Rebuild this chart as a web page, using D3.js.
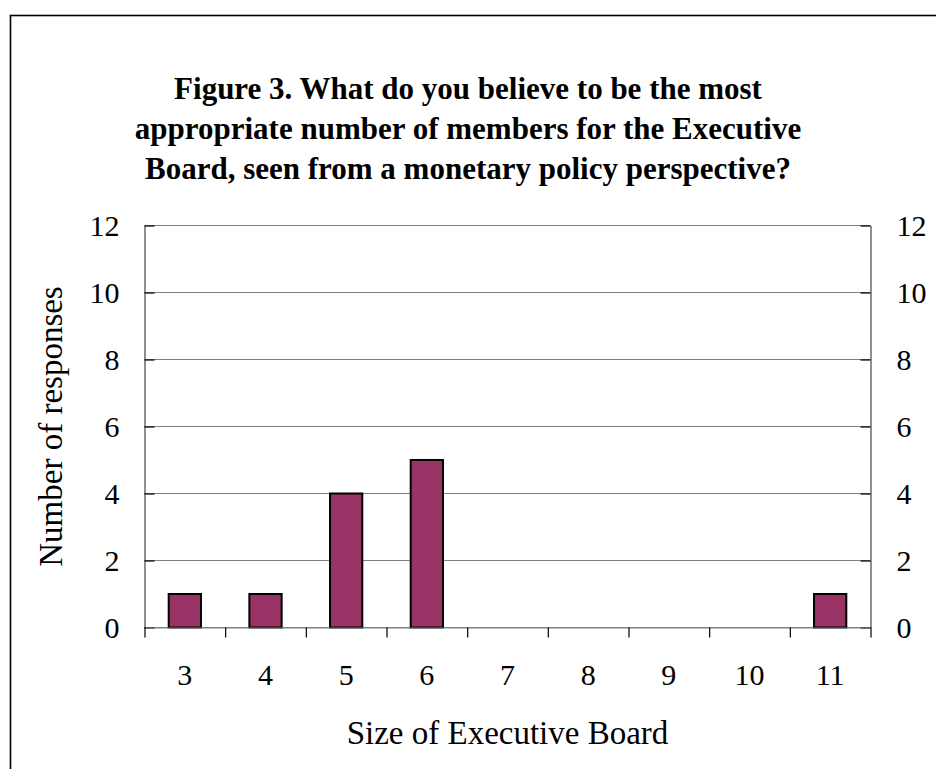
<!DOCTYPE html>
<html>
<head>
<meta charset="utf-8">
<script src="https://cdn.jsdelivr.net/npm/d3@7"></script>
<style>
  html, body { margin: 0; padding: 0; background: #fff; }
  svg { display: block; font-family: "Liberation Serif", "Times New Roman", serif; }
</style>
</head>
<body>
<svg id="chart" width="936" height="769"></svg>
<script>
// Survey results: preferred size of the Executive Board
const boardSizes = ["3", "4", "5", "6", "7", "8", "9", "10", "11"];
const responses = [1, 1, 4, 5, 0, 0, 0, 0, 1];
const yTicks = [0, 2, 4, 6, 8, 10, 12];
const titleLines = [
  "Figure 3. What do you believe to be the most",
  "appropriate number of members for the Executive",
  "Board, seen from a monetary policy perspective?"
];

const svg = d3.select("#chart");
const W = 936, H = 769;
const plot = { left: 144.5, right: 870.5, top: 225.5, bottom: 627.5 };

// Outer frame (runs past the right and bottom edges)
svg.append("rect")
  .attr("x", 10.5).attr("y", 15.5)
  .attr("width", W + 20).attr("height", H + 20)
  .attr("fill", "none").attr("stroke", "#000").attr("stroke-width", 1.6);

// Title
const title = svg.append("text")
  .attr("text-anchor", "middle")
  .attr("font-weight", "bold")
  .attr("font-size", 31)
  .attr("fill", "#000");
titleLines.forEach((line, i) => {
  title.append("tspan").attr("x", 468).attr("y", 99 + i * 40).text(line);
});

// Scales
const x = d3.scaleBand().domain(boardSizes).range([plot.left, plot.right]).paddingInner(0).paddingOuter(0);
const xEdges = d3.scaleLinear().domain([0, boardSizes.length]).range([plot.left, plot.right]);
const y = d3.scaleLinear().domain([0, 12]).range([plot.bottom, plot.top]);

// Horizontal gridlines
svg.append("g")
  .selectAll("line")
  .data(yTicks)
  .join("line")
  .attr("x1", plot.left).attr("x2", plot.right)
  .attr("y1", d => y(d)).attr("y2", d => y(d))
  .attr("stroke", "#808080").attr("stroke-width", 1);

// Bars
const barW = x.bandwidth() / 2.5;
svg.append("g")
  .selectAll("rect")
  .data(boardSizes.map((s, i) => ({ s, v: responses[i] })).filter(d => d.v > 0))
  .join("rect")
  .attr("x", d => x(d.s) + (x.bandwidth() - barW) / 2)
  .attr("y", d => y(d.v))
  .attr("width", barW)
  .attr("height", d => y(0) - y(d.v))
  .attr("fill", "#993366")
  .attr("stroke", "#000")
  .attr("stroke-width", 2);

// Left value axis (ticks point inward)
const yLeft = svg.append("g")
  .attr("transform", `translate(${plot.left},0)`)
  .call(d3.axisLeft(y).tickValues(yTicks).tickSizeInner(-10).tickSizeOuter(0).tickPadding(25));
// Right value axis (ticks point inward)
const yRight = svg.append("g")
  .attr("transform", `translate(${plot.right},0)`)
  .call(d3.axisRight(y).tickValues(yTicks).tickSizeInner(-10).tickSizeOuter(0).tickPadding(26));

[yLeft, yRight].forEach(g => {
  g.select(".domain").attr("stroke", "#444").attr("stroke-width", 1.2);
  g.selectAll(".tick line").attr("stroke", "#000").attr("stroke-width", 1.2);
  g.selectAll(".tick text")
    .attr("font-family", "Liberation Serif, Times New Roman, serif")
    .attr("font-size", 30).attr("fill", "#000");
});

// Category axis: tick marks at the band edges
const xTicks = svg.append("g")
  .attr("transform", `translate(0,${plot.bottom})`)
  .call(d3.axisBottom(xEdges).ticks(boardSizes.length).tickSizeInner(10).tickSizeOuter(0).tickFormat(""));
xTicks.select(".domain").attr("stroke", "#808080").attr("stroke-width", 1.2);
xTicks.selectAll(".tick line").attr("stroke", "#000").attr("stroke-width", 1.2);

// Category labels at band centres
const xLabels = svg.append("g")
  .attr("transform", `translate(0,${plot.bottom})`)
  .call(d3.axisBottom(x).tickSize(0).tickPadding(36));
xLabels.select(".domain").remove();
xLabels.selectAll(".tick text")
  .attr("font-family", "Liberation Serif, Times New Roman, serif")
  .attr("font-size", 30).attr("fill", "#000");

// Axis titles
svg.append("text")
  .attr("x", (plot.left + plot.right) / 2).attr("y", 744)
  .attr("text-anchor", "middle")
  .attr("font-size", 33)
  .text("Size of Executive Board");

svg.append("text")
  .attr("transform", `translate(62,${(plot.top + plot.bottom) / 2}) rotate(-90)`)
  .attr("text-anchor", "middle")
  .attr("font-size", 33)
  .text("Number of responses");
</script>
</body>
</html>
